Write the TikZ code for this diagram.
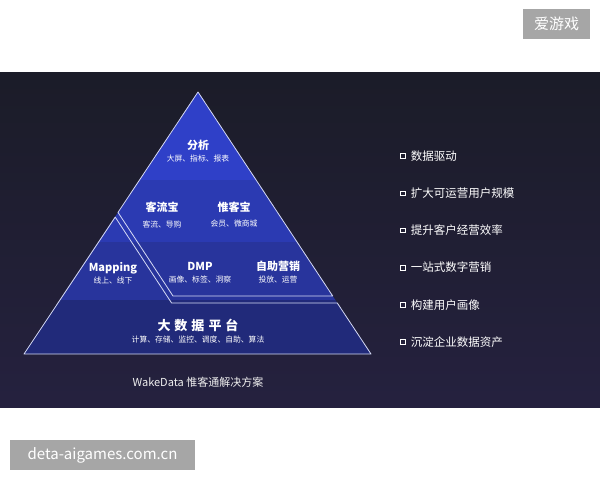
\documentclass[tikz,border=0pt]{standalone}
\usepackage{fontspec}
\setmainfont{Noto Sans CJK SC}
\usetikzlibrary{calc, positioning}

\definecolor{panelTop}{HTML}{1B1C28}
\definecolor{panelBot}{HTML}{25213F}
\definecolor{bandA}{HTML}{2F40C8}
\definecolor{bandB}{HTML}{2B3AB2}
\definecolor{bandC}{HTML}{28349C}
\definecolor{bandD}{HTML}{212A7A}
\definecolor{edge}{HTML}{D6DAF5}
\definecolor{mark}{HTML}{A6A6A6}

\begin{document}
\begin{tikzpicture}[
    x=1pt, y=-1pt,
    title/.style={text=white, inner sep=0pt, font=\bfseries\fontsize{11}{13}\selectfont},
    sub/.style={text=white, inner sep=0pt, font=\fontsize{7.8}{9}\selectfont},
    item/.style={text=white, anchor=west, inner sep=0pt, font=\fontsize{11.5}{13}\selectfont},
    dot/.style={draw=white, line width=0.6pt, inner sep=0pt, minimum size=4.5pt},
    stamp/.style={fill=mark, text=white, inner sep=0pt, minimum height=30pt, font=\fontsize{15}{17}\selectfont}
]
\useasboundingbox (0,0) rectangle (600,480);
\shade[top color=panelTop, bottom color=panelBot] (0,72) rectangle (600,407);

\coordinate (Top) at (198,92);
\coordinate (BL) at (24,354);
\coordinate (BR) at (371,354);

% upper block
\coordinate (PA) at (118,212.4);
\coordinate (CA) at (173,296);
\coordinate (RA) at (332.7,296);

% lower block: Mapping and platform
\coordinate (PB) at (115.2,217.1);
\coordinate (CB) at (171.6,303);
\coordinate (RB) at (337.3,303);

% Bands
\begin{scope}
    \clip (Top) -- (BL) -- (BR) -- cycle;
    \fill[bandA] (0,90) rectangle (600,180);
    \fill[bandB] (0,180) rectangle (600,242);
    \fill[bandC] (0,242) rectangle (600,299.5);
    \fill[bandD] (0,299.5) rectangle (600,356);
\end{scope}

% Outlines
\draw[edge, line width=0.8pt, line join=round] (Top) -- (PA) -- (CA) -- (RA) -- cycle;
\draw[edge, line width=0.8pt, line join=round] (PB) -- (CB) -- (RB) -- (BR) -- (BL) -- cycle;

\node[title] (fenxi) at (198,145) {分析};
\node[sub] (fenxiSub) at (198,159) {大屏、指标、报表};

\node[title] (keliu) at (162,207) {客流宝};
\node[sub] (keliuSub) at (162,224) {客流、导购};
\node[title] (weike) at (234,207) {惟客宝};
\node[sub] (weikeSub) at (234,224) {会员、微商城};

\node[title] (mapping) at (113,268) {Mapping};
\node[sub] (mappingSub) at (113,281) {线上、线下};
\node[title] (dmp) at (200,266) {DMP};
\node[sub] (dmpSub) at (200,280) {画像、标签、洞察};
\node[title] (zizhu) at (278,266) {自助营销};
\node[sub] (zizhuSub) at (278,280) {投放、运营};

\node[title, font=\bfseries\fontsize{13}{15}\selectfont] (platform) at (198,325)
    {大\kern4pt 数\kern4pt 据\kern4pt 平\kern4pt 台};
\node[sub] (platformSub) at (198,340) {计算、存储、监控、调度、自助、算法};

\node[text=white!88!gray, inner sep=0pt, font=\fontsize{11}{13}\selectfont] (caption) at (198,382)
    {WakeData 惟客通解决方案};

% Right list
\foreach \txt [count=\i] in {数据驱动, 扩大可运营用户规模, 提升客户经营效率, 一站式数字营销, 构建用户画像, 沉淀企业数据资产} {
    \node[dot] (b\i) at (403, {156+37.2*(\i-1)}) {};
    \node[item, right=5pt of b\i] (t\i) {\txt};
}

\node[stamp, minimum width=67pt] (ayx) at (556.5,24) {爱游戏};
\node[stamp, minimum width=185pt] (deta) at (102.5,455) {deta-aigames.com.cn};
\end{tikzpicture}
\end{document}
